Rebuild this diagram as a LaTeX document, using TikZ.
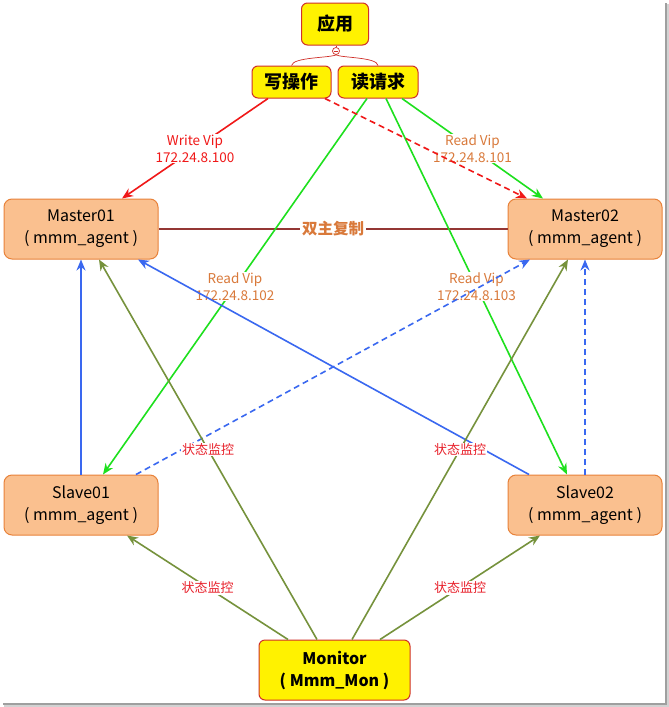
\documentclass[tikz,border=0pt]{standalone}
\usepackage{fontspec}
\setmainfont{Noto Sans CJK SC}
\usetikzlibrary{arrows.meta,calc}
\definecolor{boxfill}{HTML}{FAC08F}
\definecolor{boxline}{HTML}{E8823A}
\definecolor{yline}{HTML}{D0302A}
\definecolor{wred}{HTML}{F01818}
\definecolor{rgreen}{HTML}{1EE01E}
\definecolor{lblue}{HTML}{3A68F0}
\definecolor{olive}{HTML}{76923C}
\definecolor{brownline}{HTML}{943634}
\definecolor{orangetxt}{HTML}{D9793A}
\definecolor{stred}{HTML}{E8202A}
\begin{document}
\begin{tikzpicture}[x=1pt,y=-1pt,
  agentbox/.style={draw=boxline, fill=boxfill, rounded corners=8pt, line width=1pt,
    minimum width=154pt, minimum height=60pt, align=center, inner sep=0pt,
    font=\fontsize{16}{22}\selectfont},
  ybox/.style={draw=yline, fill=yellow, rounded corners=6pt, line width=1pt,
    align=center, inner sep=0pt},
  arr/.style={line width=1.6pt, -{Stealth[length=11pt,width=9pt]}},
  lbl/.style={fill=white, inner sep=1pt, align=center, font=\fontsize{13.5}{17}\selectfont},
  stlbl/.style={fill=white, inner sep=1pt, text=stred, font=\fontsize{13}{15}\selectfont},
]
\useasboundingbox (0,0) rectangle (669,707);
\fill[white] (0,0) rectangle (669,707);
% frame shadow
\fill[gray!35] (666,4) rectangle (669,707);
\fill[gray!35] (4,704) rectangle (669,707);
\fill[gray!75] (664.5,3) rectangle (666.5,705);
\fill[gray!75] (3,702.5) rectangle (666.5,704.5);

% nodes
\node[ybox, minimum width=67pt, minimum height=42pt, font=\fontsize{18}{20}\selectfont\bfseries] (app) at (335,24) {应用};
\node[ybox, minimum width=79pt, minimum height=32pt, font=\fontsize{18}{20}\selectfont\bfseries] (write) at (291.5,82) {写操作};
\node[ybox, minimum width=80pt, minimum height=32pt, font=\fontsize{18}{20}\selectfont\bfseries] (read) at (378,82) {读请求};
\node[agentbox] (m1) at (81,229) {Master01\\( mmm\_agent )};
\node[agentbox] (m2) at (585,229) {Master02\\( mmm\_agent )};
\node[agentbox] (s1) at (81,505) {Slave01\\( mmm\_agent )};
\node[agentbox] (s2) at (585,505) {Slave02\\( mmm\_agent )};
\node[ybox, minimum width=151pt, minimum height=60pt, font=\fontsize{16}{22}\selectfont\bfseries] (mon) at (334.5,670) {Monitor\\( Mmm\_Mon )};

% collapse circle and bracket
\node[circle, draw=yline, fill=white, line width=0.7pt, minimum size=7pt, inner sep=0pt] (c) at (336,51) {};
\draw[yline, line width=0.7pt] ([xshift=-2pt]c.center) -- ([xshift=2pt]c.center);
\draw[yline, line width=0.7pt] (app.south -| c) -- (c.north);
\draw[yline, line width=0.7pt] (c.south) .. controls (330,58) and (293,57) .. (write.north);
\draw[yline, line width=0.7pt] (c.south) .. controls (342,58) and (377,57) .. (read.north);

% master-master replication
\draw[brownline, line width=1.6pt] (m1.east) -- node[fill=white, inner sep=2pt, text=orangetxt, font=\fontsize{15.5}{18}\selectfont\bfseries] {双主复制} (m2.west);

% read vips
\draw[arr, rgreen] ([xshift=24pt]read.south) -- node[lbl, text=orangetxt] {Read Vip\\172.24.8.101} ([xshift=-42pt]m2.north);
\draw[arr, rgreen] ([xshift=-11pt]read.south) -- node[lbl, text=orangetxt] {Read Vip\\172.24.8.102} ([xshift=22pt]s1.north);
\draw[arr, rgreen] ([xshift=8pt]read.south) -- node[lbl, text=orangetxt] {Read Vip\\172.24.8.103} ([xshift=-18pt]s2.north);

% write vip
\draw[arr, wred] ([xshift=-23.5pt]write.south) -- node[lbl, text=wred] {Write Vip\\172.24.8.100} ([xshift=41pt]m1.north);
\draw[arr, wred, dash pattern=on 6pt off 4pt] ([xshift=33.5pt]write.south) -- ([xshift=-58pt]m2.north);

% replication slaves
\draw[arr, lblue] (s1.north) -- (m1.south);
\draw[arr, lblue, dash pattern=on 6pt off 4pt] ([xshift=55pt]s1.north) -- ([xshift=-55pt]m2.south);
\draw[arr, lblue] ([xshift=-56pt]s2.north) -- ([xshift=57pt]m1.south);
\draw[arr, lblue, dash pattern=on 6pt off 4pt] (s2.north) -- (m2.south);

% monitoring
\draw[arr, olive] ([xshift=-46.5pt]mon.north) -- node[stlbl] {状态监控} ([xshift=46pt]s1.south);
\draw[arr, olive] ([xshift=-17.5pt]mon.north) -- node[stlbl] {状态监控} ([xshift=18pt]m1.south);
\draw[arr, olive] ([xshift=17.5pt]mon.north) -- node[stlbl] {状态监控} ([xshift=-17pt]m2.south);
\draw[arr, olive] ([xshift=45.5pt]mon.north) -- node[stlbl] {状态监控} ([xshift=-45pt]s2.south);
\end{tikzpicture}
\end{document}
